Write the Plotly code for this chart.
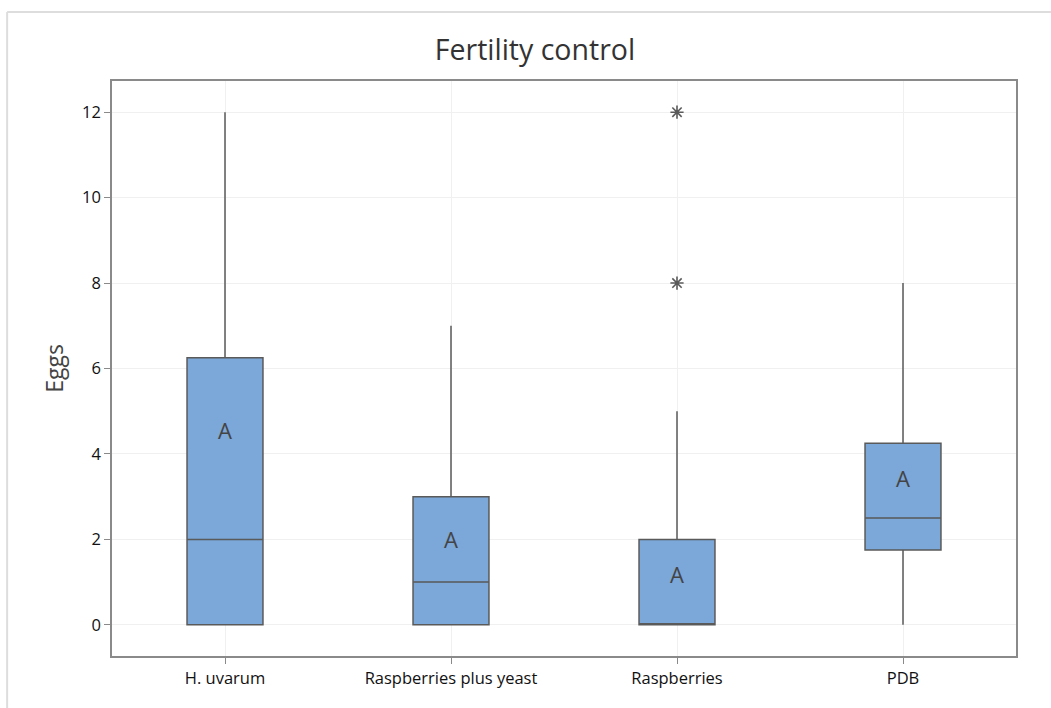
import plotly.graph_objects as go

categories = ["H. uvarum", "Raspberries plus yeast", "Raspberries", "PDB"]
q1 = [0, 0, 0, 1.75]
median = [2, 1, 0, 2.5]
q3 = [6.25, 3, 2, 4.25]
lower_whisker = [0, 0, 0, 0]
upper_whisker = [12, 7, 5, 8]
outlier_x = ["Raspberries", "Raspberries"]
outlier_y = [12, 8]
group_letters = ["A", "A", "A", "A"]
letter_y = [4.48, 1.92, 1.1, 3.35]
y_ticks = [0, 2, 4, 6, 8, 10, 12]

FONT = "Open Sans"
fig = go.Figure()
fig.add_trace(go.Box(
    x=categories, q1=q1, median=median, q3=q3,
    lowerfence=lower_whisker, upperfence=upper_whisker,
    fillcolor="#7BA7D9", line=dict(color="#5a5a5a", width=1.5),
    whiskerwidth=0, width=0.336, boxpoints=False, showlegend=False,
    hoverinfo="skip",
))
fig.add_trace(go.Scatter(
    x=outlier_x, y=outlier_y, mode="markers",
    marker=dict(symbol="asterisk-open", size=11, color="#5a5a5a",
                line=dict(color="#5a5a5a", width=1.6)),
    showlegend=False,
))
fig.add_trace(go.Scatter(
    x=categories, y=letter_y, mode="text", text=group_letters,
    textfont=dict(family=FONT, size=22, color="#444"),
    showlegend=False,
))

# outer chart frame (light grey)
fig.add_shape(type="line", xref="paper", yref="paper", x0=-0.116, x1=1.1, y0=1.12, y1=1.12,
              line=dict(color="#dddddd", width=2))
fig.add_shape(type="line", xref="paper", yref="paper", x0=-0.116, x1=-0.116, y0=1.12, y1=-0.2,
              line=dict(color="#dddddd", width=2))

fig.update_layout(
    width=1051, height=708,
    margin=dict(l=112, r=35, t=81, b=52),
    paper_bgcolor="white", plot_bgcolor="white",
    font=dict(family=FONT, color="#111"),
    title=dict(text="Fertility control", x=0.509, xref="container", xanchor="center",
               y=0.93, yref="container", yanchor="middle",
               font=dict(family=FONT, size=28.5, color="#333")),
)
fig.update_xaxes(
    type="category", categoryorder="array", categoryarray=categories,
    range=[-0.5, 3.5],
    showline=True, mirror=True, linecolor="#8a8a8a", linewidth=1.5,
    showgrid=True, gridcolor="#f0f0f0", gridwidth=1,
    ticks="outside", ticklen=6, tickcolor="#8a8a8a",
    tickfont=dict(family=FONT, size=16.5, color="#111"),
)
fig.update_yaxes(
    range=[-0.73, 12.73], tickvals=y_ticks,
    showline=True, mirror=True, linecolor="#8a8a8a", linewidth=1.5,
    showgrid=True, gridcolor="#f0f0f0", gridwidth=1, zeroline=False,
    ticks="outside", ticklen=6, tickcolor="#8a8a8a",
    tickfont=dict(family=FONT, size=16.5, color="#111"),
    title=dict(text="Eggs", font=dict(family=FONT, size=23, color="#444"), standoff=12),
)
fig.write_html("out.html")
